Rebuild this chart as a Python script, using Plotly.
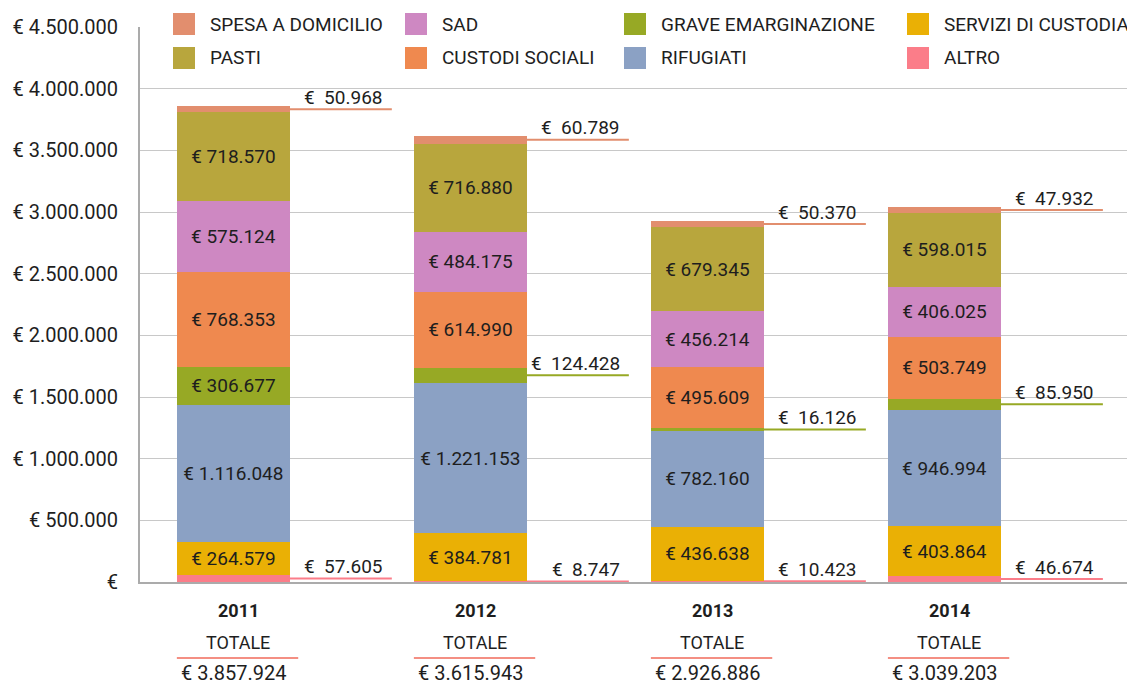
import plotly.graph_objects as go

# ---------------- data ----------------
years = ["2011", "2012", "2013", "2014"]
altro = [57605, 8747, 10423, 46674]
servizi_custodia = [264579, 384781, 436638, 403864]
rifugiati = [1116048, 1221153, 782160, 946994]
grave_emarginazione = [306677, 124428, 16126, 85950]
custodi_sociali = [768353, 614990, 495609, 503749]
sad = [575124, 484175, 456214, 406025]
pasti = [718570, 716880, 679345, 598015]
spesa_domicilio = [50968, 60789, 50370, 47932]
totali = [3857924, 3615943, 2926886, 3039203]
y_tick_values = [0, 500000, 1000000, 1500000, 2000000, 2500000, 3000000, 3500000, 4000000, 4500000]

# stacking order bottom -> top
series = [
    ("ALTRO", altro, "#FB7D89"),
    ("SERVIZI DI CUSTODIA", servizi_custodia, "#EAB005"),
    ("RIFUGIATI", rifugiati, "#8BA1C4"),
    ("GRAVE EMARGINAZIONE", grave_emarginazione, "#97A925"),
    ("CUSTODI SOCIALI", custodi_sociali, "#EF894F"),
    ("SAD", sad, "#CE88C2"),
    ("PASTI", pasti, "#B8A63D"),
    ("SPESA A DOMICILIO", spesa_domicilio, "#E28E6E"),
]
legend_columns = [
    ["SPESA A DOMICILIO", "PASTI"],
    ["SAD", "CUSTODI SOCIALI"],
    ["GRAVE EMARGINAZIONE", "RIFUGIATI"],
    ["SERVIZI DI CUSTODIA", "ALTRO"],
]
OUTSIDE_LIMIT = 150000


def euro(v):
    return "€ " + f"{v:,}".replace(",", ".")


def euro_gap(v):
    return "€\u00a0\u00a0" + f"{v:,}".replace(",", ".")


FONT = "Roboto, 'DejaVu Sans', sans-serif"
TXT = "#1e1e1e"

# page body margin offset (browser default 8px)
OFF = 8
W, H = 1135 - OFF, 684 - OFF
# pixel geometry of plot area (page coordinates)
L, R, T, B = 140, 1135, 27, 582
def px(xp):
    return (xp - L) / (R - L)
def py(yp):
    return (B - yp) / (B - T)

BAR_W = 0.477
XR = [-0.394, 3.804]

fig = go.Figure()
shapes = []
annotations = []
colors = {}
base = [0] * len(years)
for name, vals, col in series:
    colors[name] = col
    labels = [euro(v) if v >= OUTSIDE_LIMIT else "" for v in vals]
    fig.add_trace(go.Bar(
        x=years, y=vals, name=name, marker=dict(color=col, line=dict(width=0)),
        width=BAR_W, text=labels, textposition="inside", insidetextanchor="middle",
        textfont=dict(family=FONT, size=19, color=TXT), constraintext="none",
        showlegend=False, hoverinfo="name+y",
    ))
    for i, v in enumerate(vals):
        if v < OUTSIDE_LIMIT:
            mid = base[i] + v / 2
            x0 = i + BAR_W / 2
            shapes.append(dict(type="line", xref="x", yref="y", x0=x0, x1=x0 + 0.43,
                               y0=mid, y1=mid, line=dict(color=col, width=2), layer="above"))
            annotations.append(dict(xref="x", yref="y", x=x0 + 0.40, y=mid, xanchor="right",
                                    yanchor="middle", yshift=12, text=euro_gap(v), showarrow=False,
                                    font=dict(family=FONT, size=19, color=TXT)))
        base[i] += v

# totals below axis
for i, (yr, tot) in enumerate(zip(years, totali)):
    annotations.append(dict(xref="x", yref="paper", x=i + 0.02, y=0, yanchor="middle", yshift=-28,
                            text="<b>" + yr + "</b>", showarrow=False,
                            font=dict(family=FONT, size=18, color=TXT)))
    annotations.append(dict(xref="x", yref="paper", x=i + 0.02, y=0, yanchor="middle", yshift=-60,
                            text="TOTALE", showarrow=False,
                            font=dict(family=FONT, size=18, color=TXT)))
    annotations.append(dict(xref="x", yref="paper", x=i, y=0, yanchor="middle", yshift=-91,
                            text=euro(tot), showarrow=False,
                            font=dict(family=FONT, size=20, color=TXT)))
    shapes.append(dict(type="line", xref="x", yref="paper", x0=i - BAR_W / 2, x1=i + BAR_W / 2 + 0.035,
                       y0=py(658), y1=py(658), line=dict(color="#F06A5A", width=1.5)))

# legend (manual)
shapes.append(dict(type="rect", xref="paper", yref="paper", x0=px(160), x1=px(1135),
                   y0=py(35), y1=py(20), fillcolor="white", line=dict(width=0), layer="above"))
col_sq_x = [173, 405, 624, 907]
row_y = [[13, 35], [47, 69]]
for c, names in enumerate(legend_columns):
    for r, name in enumerate(names):
        x0 = col_sq_x[c]
        y0, y1 = row_y[r]
        shapes.append(dict(type="rect", xref="paper", yref="paper", x0=px(x0), x1=px(x0 + 22),
                           y0=py(y1), y1=py(y0), fillcolor=colors[name], line=dict(width=0),
                           layer="above"))
        annotations.append(dict(xref="paper", yref="paper", x=px(x0 + 35), y=py((y0 + y1) / 2),
                                xanchor="left", yanchor="middle", text=name, showarrow=False,
                                font=dict(family=FONT, size=19, color=TXT)))

tick_text = [("€ " + f"{v:,}".replace(",", ".")) if v else "€" for v in y_tick_values]

fig.update_layout(
    barmode="stack",
    width=W, height=H,
    margin=dict(l=L - OFF, r=1135 - R, t=T - OFF, b=684 - B, pad=0),
    paper_bgcolor="white", plot_bgcolor="white",
    font=dict(family=FONT, color=TXT),
    shapes=shapes, annotations=annotations,
    xaxis=dict(type="category", range=XR, showticklabels=False, showgrid=False,
               showline=True, linecolor="#ABABAB", linewidth=2, ticks="", zeroline=False),
    yaxis=dict(range=[0, 4500000], tickvals=y_tick_values, ticktext=tick_text,
               showgrid=True, gridcolor="#C8C8C8", gridwidth=1, showline=True,
               linecolor="#ABABAB", linewidth=2, ticks="", ticklabelstandoff=16,
               tickfont=dict(family=FONT, size=20, color=TXT), zeroline=False),
)

fig.write_html("out.html")
